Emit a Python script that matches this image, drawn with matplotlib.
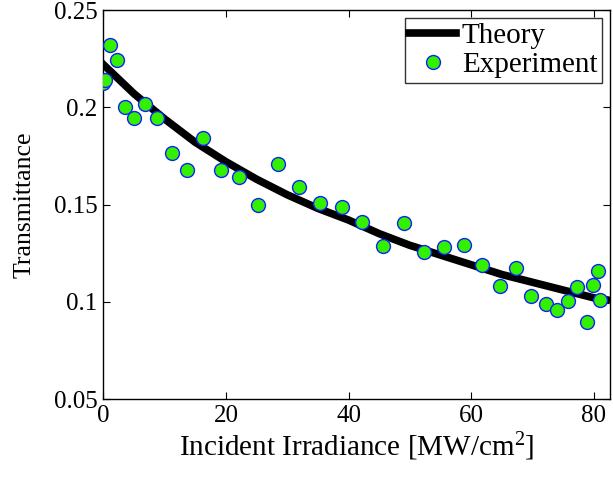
import matplotlib
matplotlib.use("Agg")
import matplotlib.pyplot as plt

plt.rcParams['font.family'] = ['Liberation Serif', 'DejaVu Serif']
plt.rcParams['mathtext.fontset'] = 'custom'
plt.rcParams['mathtext.rm'] = 'Liberation Serif'
plt.rcParams['mathtext.it'] = 'Liberation Serif:italic'

# Theory curve
theory_x = [0, 5, 10, 15, 20, 25, 30, 35, 40, 45, 50, 55, 60, 65, 70, 75, 80, 82]
theory_y = [0.222, 0.207, 0.194, 0.182, 0.172, 0.163, 0.155, 0.148, 0.142, 0.135,
            0.129, 0.124, 0.119, 0.114, 0.110, 0.106, 0.102, 0.101]

# Experimental points
exp_x = [0.0, 0.3, 1.1, 2.2, 3.5, 5.05, 6.85, 8.8, 11.15, 13.7, 16.3, 19.2, 22.1, 25.3,
         28.5, 31.95, 35.3, 38.9, 42.2, 45.6, 49.0, 52.3, 55.6, 58.8, 61.7, 64.7,
         67.3, 69.8, 72.1, 74.0, 75.8, 77.3, 78.8, 79.8, 80.6, 81.0]
exp_y = [0.2126, 0.214, 0.232, 0.2243, 0.2003, 0.1943, 0.2017, 0.1943, 0.1767, 0.1678,
         0.1844, 0.1678, 0.1643, 0.1498, 0.1708, 0.1589, 0.151, 0.1486, 0.141, 0.1287,
         0.1404, 0.1256, 0.1282, 0.1294, 0.119, 0.1083, 0.1175, 0.1032, 0.0989, 0.0958,
         0.1003, 0.1076, 0.0898, 0.1088, 0.1157, 0.1009]

xticks = [0, 20, 40, 60, 80]
yticks = [0.05, 0.1, 0.15, 0.2, 0.25]
yticklabels = ['0.05', '0.1', '0.15', '0.2', '0.25']

fig = plt.figure(figsize=(6.13, 4.79), dpi=100)
ax = fig.add_axes([0.1685, 0.167, 0.8265, 0.812])

ax.plot(theory_x, theory_y, color='black', lw=5.5, label='Theory', zorder=2)
ax.plot(exp_x, exp_y, linestyle='none', marker='o', markersize=10,
        markerfacecolor='#33f000', markeredgecolor='#1020ff', markeredgewidth=1,
        label='Experiment', zorder=3)

ax.set_xlim(0, 82.6)
ax.set_ylim(0.05, 0.25)
ax.set_xticks(xticks)
ax.set_xticklabels([str(t) for t in xticks])
ax.set_yticks(yticks)
ax.set_yticklabels(yticklabels)
ax.tick_params(direction='in', top=True, right=True, length=5, width=0.8,
               labelsize=18, pad=4)
for s in ax.spines.values():
    s.set_linewidth(1.0)

ax.set_xlabel(r'Incident Irradiance [MW/cm$^{2}$]', fontsize=21, labelpad=3)
ax.set_ylabel('Transmittance', fontsize=18.5, labelpad=13)

leg = ax.legend(loc='upper right', fontsize=21, frameon=True, fancybox=False,
                edgecolor='black', borderaxespad=0.28, handlelength=1.6,
                handletextpad=0.2, borderpad=0.15, labelspacing=0.1)
leg.get_frame().set_linewidth(1.0)

fig.savefig('out.png', dpi=100)
